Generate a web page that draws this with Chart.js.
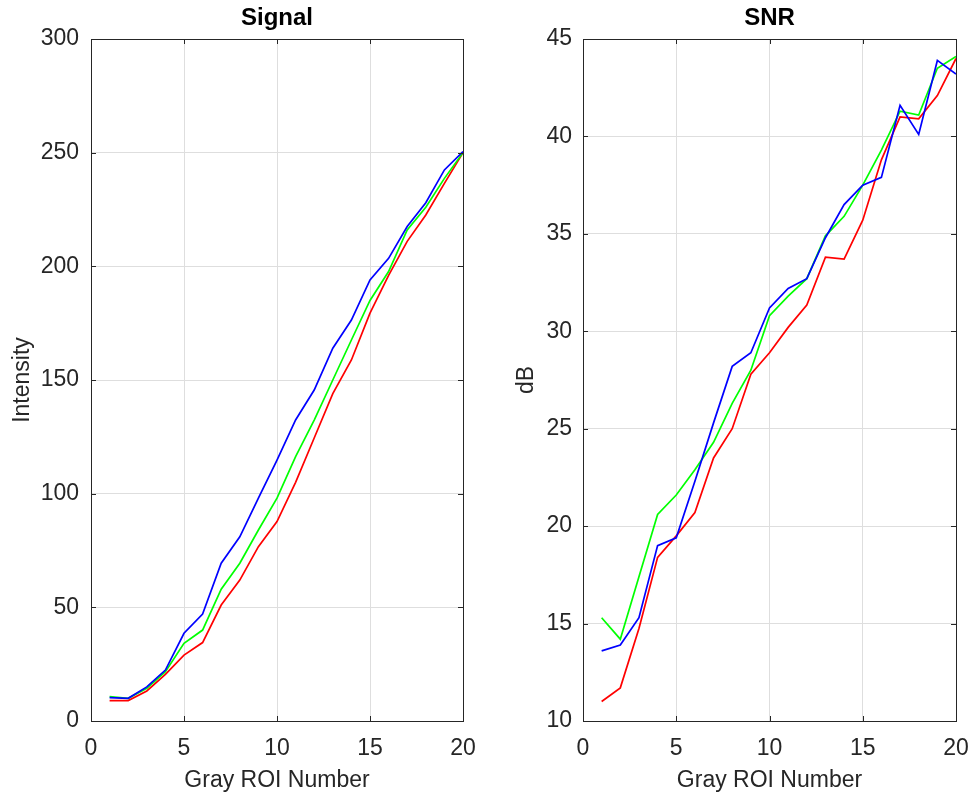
<!DOCTYPE html>
<html>
<head>
<meta charset="utf-8">
<script src="https://cdn.jsdelivr.net/npm/chart.js@4/dist/chart.umd.min.js"></script>
<style>
    html, body { margin: 0; padding: 0; background: #fff; }
    #wrap { position: relative; width: 972px; height: 796px; }
    canvas { position: absolute; top: 0; }
</style>
</head>
<body>
<div id="wrap">
    <canvas id="signal-chart" width="486" height="796" style="left:0"></canvas>
    <canvas id="snr-chart" width="486" height="796" style="left:486px"></canvas>
</div>
<script>
// Gray ROI numbers on the x axis
const roi = [1, 2, 3, 4, 5, 6, 7, 8, 9, 10, 11, 12, 13, 14, 15, 16, 17, 18, 19, 20];

// Signal (Intensity) per channel
const signalRed = [9, 9, 13.2, 20.5, 29, 34.5, 51, 62, 76.7, 87.7, 105, 124.5, 144, 158.8, 179.4, 196, 211, 222.6, 236.5, 250];
const signalGreen = [10.7, 10, 14.4, 21.7, 34.2, 40, 58, 69.4, 84, 98, 116.3, 132.4, 150, 167.6, 185, 197.7, 216, 226, 238.7, 250];
const signalBlue = [10.3, 10, 15, 22.4, 38.6, 47, 69.4, 81, 98, 114.8, 132.4, 145.6, 164, 176.4, 194, 203.5, 217.5, 228, 242.4, 250.5];

// SNR (dB) per channel
const snrRed = [11.0, 11.7, 14.75, 18.4, 19.5, 20.7, 23.5, 25.0, 27.8, 28.9, 30.2, 31.35, 33.8, 33.7, 35.7, 38.8, 41.0, 40.9, 42.1, 44.0];
const snrGreen = [15.3, 14.2, 17.4, 20.6, 21.6, 22.9, 24.3, 26.3, 28.0, 30.8, 31.8, 32.7, 34.9, 35.9, 37.5, 39.3, 41.3, 41.1, 43.5, 44.1];
const snrBlue = [13.6, 13.9, 15.3, 19.0, 19.4, 22.3, 25.3, 28.2, 28.9, 31.2, 32.2, 32.7, 34.8, 36.5, 37.5, 37.9, 41.6, 40.1, 43.9, 43.2];

const xTicks = [0, 5, 10, 15, 20];

const FONT = '"Liberation Sans", Arial, sans-serif';
const axisGray = '#262626';
const gridGray = '#dedede';

// frame + inward tick marks, MATLAB style
const boxPlugin = {
    id: 'box',
    afterDraw(chart) {
        const ctx = chart.ctx;
        const a = chart.chartArea;
        const xs = chart.scales.x;
        const ys = chart.scales.y;
        const len = 5;
        ctx.save();
        ctx.strokeStyle = axisGray;
        ctx.lineWidth = 1;
        ctx.beginPath();
        xs.ticks.forEach(t => {
            const px = Math.round(xs.getPixelForValue(t.value)) + 0.5;
            ctx.moveTo(px, a.bottom); ctx.lineTo(px, a.bottom - len);
            ctx.moveTo(px, a.top); ctx.lineTo(px, a.top + len);
        });
        ys.ticks.forEach(t => {
            const py = Math.round(ys.getPixelForValue(t.value)) + 0.5;
            ctx.moveTo(a.left, py); ctx.lineTo(a.left + len, py);
            ctx.moveTo(a.right, py); ctx.lineTo(a.right - len, py);
        });
        ctx.stroke();
        ctx.strokeRect(Math.round(a.left) + 0.5, Math.round(a.top) + 0.5,
            Math.round(a.right - a.left), Math.round(a.bottom - a.top));
        ctx.restore();
    }
};

function points(ys) {
    return roi.map((x, i) => ({ x: x, y: ys[i] }));
}

function makeChart(id, opts) {
    const ctx = document.getElementById(id);
    return new Chart(ctx, {
        type: 'line',
        data: {
            datasets: [
                { label: 'R', data: points(opts.red), borderColor: '#ff0000', order: 2 },
                { label: 'G', data: points(opts.green), borderColor: '#00ff00', order: 1 },
                { label: 'B', data: points(opts.blue), borderColor: '#0000ff', order: 0 }
            ]
        },
        options: {
            responsive: false,
            animation: false,
            layout: { padding: { left: 0, right: opts.rightPad, top: 0, bottom: 0 } },
            elements: {
                line: { borderWidth: 1.7, tension: 0 },
                point: { radius: 0 }
            },
            plugins: {
                legend: { display: false },
                tooltip: { enabled: false },
                title: { display: false }
            },
            scales: {
                // top axis only carries the plot title, so it is centred over the axes box
                top: {
                    type: 'linear',
                    position: 'top',
                    min: 0,
                    max: 20,
                    afterFit: s => {
                        s.height = 39;
                        s.paddingLeft = 0;
                        s.paddingRight = 0;
                    },
                    grid: { display: false },
                    border: { display: false },
                    ticks: { display: false },
                    title: {
                        display: true,
                        text: opts.title,
                        color: '#000',
                        font: { family: FONT, size: 24, weight: 'bold', lineHeight: 1.2 },
                        padding: { top: 3.6, bottom: 0 }
                    }
                },
                x: {
                    type: 'linear',
                    min: 0,
                    max: 20,
                    afterBuildTicks: s => { s.ticks = xTicks.map(v => ({ value: v })); },
                    afterFit: s => {
                        s.height = 75;
                        s.paddingLeft = 0;
                        s.paddingRight = 0;
                    },
                    grid: { color: gridGray, drawTicks: false },
                    border: { display: false },
                    ticks: { color: axisGray, padding: 14, maxRotation: 0, font: { family: FONT, size: 23 } },
                    title: {
                        display: true,
                        text: 'Gray ROI Number',
                        color: axisGray,
                        font: { family: FONT, size: 23, lineHeight: 1.2 },
                        padding: { top: 0, bottom: 1.2 }
                    }
                },
                y: {
                    min: opts.yMin,
                    max: opts.yMax,
                    afterBuildTicks: s => { s.ticks = opts.yTicks.map(v => ({ value: v })); },
                    afterFit: s => {
                        s.width = opts.yWidth;
                        s.paddingTop = 0;
                        s.paddingBottom = 0;
                    },
                    grid: { color: gridGray, drawTicks: false },
                    border: { display: false },
                    ticks: { color: axisGray, padding: opts.yPad, font: { family: FONT, size: 23 } },
                    title: {
                        display: true,
                        text: opts.yTitle,
                        color: axisGray,
                        font: { family: FONT, size: 23, lineHeight: 1.2 },
                        padding: { top: opts.yTitlePad, bottom: 0 }
                    }
                }
            }
        },
        plugins: [boxPlugin]
    });
}

makeChart('signal-chart', {
    title: 'Signal',
    yTitle: 'Intensity',
    red: signalRed, green: signalGreen, blue: signalBlue,
    yMin: 0, yMax: 300, yTicks: [0, 50, 100, 150, 200, 250, 300],
    yWidth: 91, yPad: 12, yTitlePad: 9, rightPad: 23
});

makeChart('snr-chart', {
    title: 'SNR',
    yTitle: 'dB',
    red: snrRed, green: snrGreen, blue: snrBlue,
    yMin: 10, yMax: 45, yTicks: [10, 15, 20, 25, 30, 35, 40, 45],
    yWidth: 97, yPad: 11, yTitlePad: 27, rightPad: 16
});
</script>
</body>
</html>
